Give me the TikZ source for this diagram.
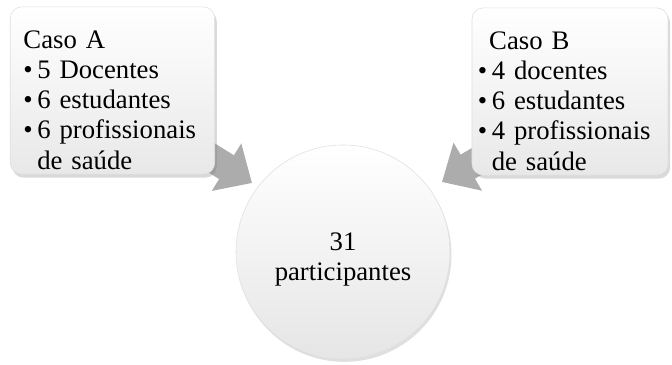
\documentclass[tikz,border=0pt]{standalone}
\usepackage{fontspec}
\setmainfont{Liberation Serif}
\usetikzlibrary{shadows,arrows.meta,calc}
\pgfdeclarelayer{background}
\pgfsetlayers{background,main}

\begin{document}
\begin{tikzpicture}[x=0.025cm,y=-0.025cm,
    texto/.style={font=\fontsize{19}{21.5}\selectfont},
    caixa/.style={texto, draw=gray!25, rounded corners=8pt, top color=white, bottom color=gray!18,
      drop shadow={shadow xshift=1.5pt, shadow yshift=-2.5pt, opacity=0.3},
      text width=4.45cm, inner xsep=0.33cm, minimum height=4.125cm, align=left},
    roda/.style={texto, circle, draw=gray!25, top color=white, bottom color=gray!20,
      drop shadow={shadow xshift=1pt, shadow yshift=-2pt, opacity=0.25},
      minimum size=5.35cm, align=center},
    seta/.style={gray!65, line width=0.7cm, -{Triangle[width=1.35cm,length=0.75cm]}}]
  \useasboundingbox (0,0) rectangle (672,364);
  \node[caixa] (casoA) at (112.5,90.5) {\rule{0pt}{26pt}Caso A\\
    \textbullet\,5 Docentes\\
    \textbullet\,6 estudantes\\
    \textbullet\,6 profissionais\\
    \phantom{\textbullet\,}de saúde};
  \node[caixa, inner xsep=0.15cm, text width=4.6cm] (casoB) at (570,91.5) {\rule{0pt}{26pt}\hspace{8pt}Caso B\\
    \textbullet\,4 docentes\\
    \textbullet\,6 estudantes\\
    \textbullet\,4 profissionais\\
    \phantom{\textbullet\,}de saúde};
  \node[roda] (total) at (343,252) {\rule{0pt}{23pt}31\\participantes};
  \coordinate (pontaA) at (252,183);
  \coordinate (pontaB) at (442,182);
  \begin{pgfonlayer}{background}
    \draw[seta] ($(casoA.south east)+(-30,-33)$) -- (pontaA);
    \draw[seta] ($(casoB.south west)+(37,-33)$) -- (pontaB);
  \end{pgfonlayer}
\end{tikzpicture}
\end{document}
